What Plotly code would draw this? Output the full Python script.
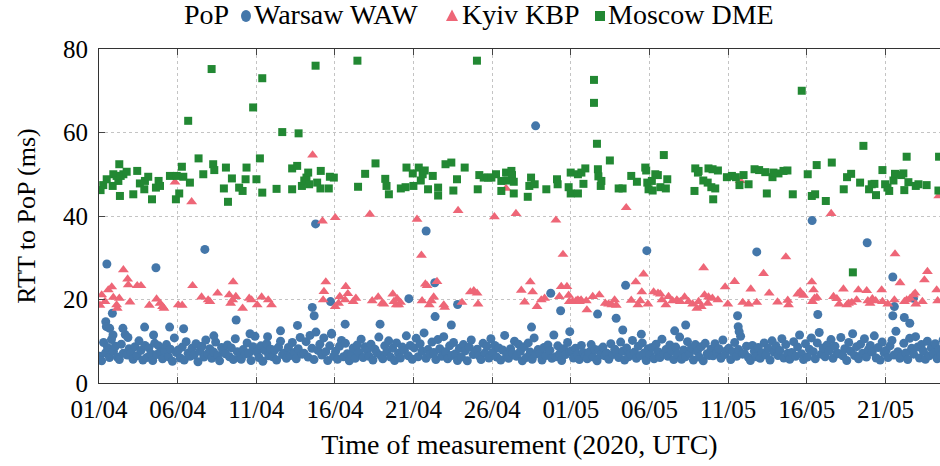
import pandas as pd
import plotly.graph_objects as go

# ---------------------------------------------------------------------------
# RTT measurements from the probe to three PoPs, spring 2020 (UTC)
# Times are given as day offsets from 2020-04-01 00:00.
# ---------------------------------------------------------------------------
START = pd.Timestamp("2020-04-01 00:00")

# Warsaw WAW: regular probing schedule (hours of the day) and the RTT per slot
waw_hours = [1, 4, 7, 10, 13, 16, 19, 22]
waw_daily = [
    [6.4, 5.3, 9.7, 7.2, 8.5, 6.1, 10.4, 7.6],
    [8.8, 6.2, 5.6, 9.3, 7.1, 11.6, 6.7, 8.2],
    [7.3, 5.7, 8.7, 6.5, 10.1, 7.8, 5.5, 9.0],
    [6.1, 8.4, 7.0, 5.4, 9.5, 6.8, 8.9, 7.4],
    [5.8, 7.7, 9.2, 6.3, 8.1, 5.2, 10.8, 7.3],
    [7.9, 6.0, 8.6, 5.5, 9.9, 7.1, 6.4, 8.3],
    [6.7, 9.4, 5.1, 7.6, 8.8, 6.2, 10.3, 7.0],
    [8.2, 5.9, 7.4, 9.8, 6.6, 5.3, 8.5, 7.7],
    [7.0, 9.1, 6.3, 8.4, 5.6, 10.6, 7.5, 6.1],
    [5.7, 8.0, 6.9, 9.6, 7.2, 5.4, 8.7, 11.2],
    [7.4, 6.1, 8.9, 5.2, 7.8, 9.4, 6.5, 8.1],
    [6.3, 7.9, 5.5, 8.6, 10.0, 6.8, 7.2, 5.9],
    [8.5, 6.6, 9.7, 7.3, 5.8, 8.2, 10.9, 6.9],
    [7.1, 9.9, 6.2, 11.4, 8.3, 5.6, 12.2, 7.8],
    [9.3, 6.7, 10.8, 7.5, 5.4, 8.9, 11.7, 6.4],
    [7.6, 5.7, 8.8, 10.2, 6.3, 9.5, 7.0, 5.3],
    [6.8, 8.4, 5.9, 9.1, 7.3, 10.5, 6.1, 8.7],
    [7.9, 6.4, 9.3, 5.5, 8.1, 7.2, 11.0, 6.6],
    [5.8, 8.9, 7.4, 10.1, 6.2, 8.3, 5.4, 9.6],
    [7.1, 6.0, 8.6, 7.8, 11.3, 6.5, 9.0, 5.7],
    [8.4, 10.7, 6.3, 9.4, 7.6, 12.0, 5.9, 8.0],
    [6.9, 9.8, 7.3, 5.6, 10.4, 8.2, 6.4, 11.1],
    [7.5, 5.8, 8.9, 6.6, 9.7, 7.0, 5.4, 8.3],
    [6.2, 9.2, 7.7, 5.3, 8.6, 10.3, 6.8, 7.4],
    [8.1, 6.5, 5.6, 9.5, 7.2, 8.8, 6.0, 10.6],
    [7.3, 9.0, 6.2, 8.4, 5.5, 7.9, 11.4, 6.7],
    [5.9, 8.2, 7.1, 10.0, 6.4, 9.3, 7.6, 5.3],
    [8.7, 6.1, 9.6, 7.4, 5.7, 10.8, 6.9, 8.0],
    [7.2, 5.5, 8.5, 6.6, 9.1, 7.8, 5.9, 11.5],
    [6.3, 8.9, 7.0, 5.4, 8.2, 6.8, 9.7, 7.5],
    [7.7, 6.0, 8.3, 6.9, 5.6, 9.0, 7.3, 6.4],
    [5.8, 7.4, 9.2, 6.2, 8.0, 5.3, 7.9, 6.7],
    [8.6, 6.5, 7.1, 5.7, 9.4, 6.8, 8.1, 7.3],
    [6.1, 9.8, 7.6, 5.5, 8.4, 6.3, 7.0, 10.2],
    [7.4, 5.9, 8.8, 6.6, 9.6, 7.2, 5.4, 8.2],
    [6.8, 8.5, 5.8, 9.3, 7.5, 6.1, 10.5, 7.0],
    [8.0, 6.4, 9.1, 7.7, 5.6, 8.6, 6.9, 11.0],
    [5.7, 7.9, 6.3, 9.9, 7.1, 8.4, 5.5, 9.2],
    [7.6, 6.2, 8.7, 5.3, 9.5, 7.0, 6.6, 8.1],
    [6.5, 9.4, 7.3, 8.2, 5.9, 10.3, 6.8, 7.8],
    [8.3, 5.6, 7.5, 9.7, 6.4, 8.0, 11.2, 6.9],
    [7.0, 8.8, 6.1, 5.4, 9.0, 7.6, 6.3, 8.5],
    [5.9, 7.2, 9.6, 6.7, 8.3, 5.5, 10.1, 7.4],
    [8.9, 6.6, 7.8, 10.6, 6.0, 9.2, 7.1, 5.7],
    [7.3, 9.9, 6.4, 8.6, 11.5, 7.0, 5.6, 9.4],
    [6.2, 8.1, 10.8, 7.5, 5.8, 9.6, 12.1, 6.9],
    [8.4, 6.3, 9.1, 7.7, 10.4, 5.9, 8.8, 7.2],
    [7.0, 10.9, 6.5, 8.2, 5.4, 9.7, 7.6, 11.8],
    [6.6, 8.7, 5.8, 9.3, 7.1, 10.6, 6.2, 8.0],
    [9.0, 7.4, 11.3, 6.0, 8.5, 5.5, 9.8, 7.3],
    [7.8, 6.1, 8.9, 10.2, 6.7, 12.4, 7.5, 5.9],
    [6.4, 9.5, 7.2, 5.6, 10.7, 8.3, 6.9, 11.1],
    [8.6, 6.0, 9.2, 7.6, 5.7, 10.0, 6.5, 8.4],
    [7.1, 9.4, 5.8, 8.0, 6.6, 10.3, 7.7, 6.2],
]

# Warsaw WAW: additional (off-schedule / elevated) samples
waw_extra_day = [
    0.50, 0.43, 0.47, 0.68, 0.85, 0.89, 1.52, 1.84, 2.90, 3.47,
    3.62, 4.49, 5.38, 6.73, 7.30, 8.72, 9.60, 10.72, 11.54, 12.62,
    13.56, 13.68, 13.77, 14.72, 14.78, 15.65, 17.87, 19.70, 20.80, 21.35,
    21.37, 22.80, 22.40, 27.50, 27.76, 28.72, 29.35, 29.93, 31.70, 32.88,
    33.48, 33.30, 34.83, 34.48, 36.60, 37.30, 40.60, 40.64, 40.70, 41.82,
    45.34, 45.70, 48.84, 50.47, 50.57, 50.47, 51.20, 51.55, 51.78,
]
waw_extra_rtt = [
    28.5, 14.7, 13.5, 13.1, 16.7, 11.5, 13.1, 10.9, 13.4, 11.5,
    27.6, 13.4, 13.0, 32.0, 11.3, 15.1, 11.8, 11.1, 12.5, 13.8,
    18.1, 16.1, 38.1, 19.5, 11.9, 14.1, 14.1, 20.2, 36.4, 24.0,
    15.9, 18.8, 13.9, 13.4, 61.6, 21.5, 17.3, 12.3, 16.5, 15.5,
    23.4, 12.7, 31.7, 11.7, 12.5, 13.9, 16.1, 13.5, 12.3, 31.4,
    38.9, 16.4, 33.6, 25.4, 18.3, 16.1, 15.7, 14.3, 20.3,
]

# Kyiv KBP
kbp_day = [
    0.06, 0.17, 0.38, 0.59, 0.81, 0.91, 1.12, 1.16, 1.29, 1.55,
    1.82, 1.86, 1.97, 2.43, 2.67, 3.20, 3.66, 3.88, 4.04, 4.13,
    4.83, 5.04, 5.29, 5.89, 5.95, 6.52, 6.94, 7.05, 7.54, 8.28,
    8.37, 8.50, 8.53, 8.70, 9.13, 9.55, 9.70, 10.06, 10.34, 10.76,
    10.97, 13.58, 14.21, 14.25, 14.30, 14.42, 15.02, 15.02, 15.23, 15.31,
    15.65, 15.69, 15.82, 16.16, 16.33, 17.22, 17.37, 17.75, 18.00, 18.11,
    18.68, 18.75, 18.90, 18.96, 19.06, 19.17, 20.22, 20.50, 20.54, 20.75,
    20.86, 21.00, 21.13, 21.28, 21.49, 21.92, 21.98, 22.83, 23.08, 23.61,
    23.83, 24.04, 24.10, 25.14, 25.88, 26.51, 26.85, 27.06, 27.42, 27.57,
    27.85, 28.12, 28.33, 29.05, 29.27, 29.39, 29.50, 29.75, 29.86, 29.90,
    30.11, 30.33, 30.45, 30.55, 30.65, 31.02, 30.98, 31.39, 31.81, 32.19,
    32.40, 32.61, 32.78, 32.89, 33.52, 33.84, 34.13, 34.26, 34.41, 34.51,
    34.62, 34.90, 35.26, 35.54, 35.69, 35.79, 36.04, 36.21, 36.47, 36.74,
    36.96, 37.23, 37.48, 37.74, 38.01, 38.12, 38.29, 38.44, 38.50, 38.75,
    38.70, 39.00, 39.35, 39.81, 39.98, 40.41, 40.76, 40.93, 41.30, 41.44,
    41.82, 42.25, 42.61, 43.14, 43.67, 43.79, 43.84, 44.43, 44.58, 44.79,
    45.32, 45.43, 45.36, 45.49, 45.64, 46.55, 46.70, 46.91, 47.06, 47.33,
    47.54, 47.65, 47.86, 48.17, 48.28, 48.81, 48.88, 49.02, 49.17, 49.38,
    49.76, 49.81, 50.15, 50.61, 50.57, 50.93, 51.21, 51.35, 51.57, 51.78,
    51.93, 51.89, 52.35, 52.48, 52.67, 53.26, 53.32, 53.39,
]
kbp_rtt = [
    18.6, 21.1, 19.5, 22.3, 23.0, 20.5, 18.7, 17.9, 20.3, 27.1,
    24.9, 23.5, 19.4, 23.3, 23.3, 18.6, 20.1, 19.1, 18.3, 17.9,
    48.1, 18.7, 18.6, 43.4, 23.3, 20.6, 19.9, 19.5, 21.5, 21.1,
    19.1, 19.9, 24.2, 20.7, 17.9, 20.3, 19.9, 18.7, 20.6, 19.9,
    18.7, 54.6, 38.8, 19.9, 21.9, 24.2, 39.6, 18.3, 19.1, 20.7,
    19.9, 23.1, 21.4, 19.5, 20.3, 40.4, 19.7, 20.6, 19.1, 18.9,
    21.3, 19.5, 18.7, 20.2, 18.7, 19.3, 39.2, 30.6, 19.7, 23.7,
    23.3, 18.7, 19.7, 20.6, 24.3, 18.7, 18.1, 41.3, 19.3, 21.8,
    22.1, 21.5, 18.9, 39.8, 46.6, 40.6, 22.2, 19.4, 24.2, 21.8,
    18.3, 19.9, 20.3, 39.0, 20.7, 23.1, 30.8, 23.1, 21.0, 19.5,
    19.5, 19.7, 19.9, 19.5, 19.9, 17.5, 19.7, 20.7, 21.1, 19.1,
    18.9, 18.7, 19.9, 18.6, 42.0, 19.8, 24.2, 18.7, 19.7, 21.8,
    26.1, 18.9, 21.8, 21.5, 21.3, 19.9, 18.7, 20.7, 19.7, 19.9,
    19.5, 20.6, 19.5, 18.9, 17.9, 19.5, 18.3, 27.6, 21.1, 20.6,
    19.1, 20.3, 19.9, 23.0, 18.9, 24.3, 48.5, 19.3, 18.9, 22.5,
    19.3, 26.2, 21.5, 19.4, 30.2, 19.8, 18.7, 21.3, 21.9, 21.0,
    24.2, 22.3, 19.5, 20.3, 20.5, 40.6, 20.7, 20.2, 18.9, 22.5,
    18.7, 19.1, 19.3, 19.9, 22.3, 22.1, 19.7, 19.1, 20.2, 19.7,
    22.3, 19.5, 18.9, 30.9, 19.9, 24.0, 19.5, 19.9, 20.3, 21.1,
    18.9, 21.5, 19.5, 24.7, 26.7, 22.3, 19.7, 44.8,
]

# Moscow DME
dme_day = [
    0.10, 0.27, 0.49, 0.87, 0.91, 1.12, 1.23, 1.29, 1.33, 1.38,
    1.55, 1.76, 2.18, 2.43, 2.60, 2.88, 2.92, 3.13, 3.37, 3.62,
    3.79, 3.88, 4.51, 4.89, 4.94, 5.10, 5.27, 5.36, 5.67, 5.78,
    6.33, 6.63, 7.16, 7.26, 7.33, 7.94, 8.07, 8.20, 8.45, 8.91,
    9.13, 9.32, 9.38, 9.80, 10.01, 10.23, 10.38, 10.38, 11.29, 11.65,
    12.28, 12.28, 12.60, 12.69, 12.90, 13.05, 13.19, 13.30, 13.36, 13.77,
    13.87, 14.08, 14.10, 14.61, 14.68, 14.93, 16.43, 16.47, 16.92, 17.58,
    18.20, 18.28, 18.43, 19.19, 19.49, 19.55, 19.95, 19.99, 20.33, 20.46,
    20.58, 20.71, 20.92, 21.22, 21.56, 21.56, 22.03, 22.40, 22.53, 22.76,
    23.25, 24.03, 24.08, 24.18, 24.46, 24.73, 24.95, 25.24, 25.58, 25.58,
    25.88, 25.96, 26.22, 26.26, 26.37, 26.37, 27.26, 27.36, 27.47, 27.70,
    28.44, 29.12, 29.16, 29.86, 29.99, 29.99, 30.45, 30.45, 30.67, 30.80,
    30.92, 31.47, 31.47, 31.66, 31.72, 31.75, 31.94, 31.90, 32.48, 33.04,
    33.29, 33.84, 34.20, 34.73, 34.79, 34.86, 34.94, 35.15, 35.20, 35.37,
    35.53, 35.69, 35.91, 36.04, 36.13, 37.86, 37.91, 38.08, 38.12, 38.42,
    38.70, 38.75, 38.93, 39.01, 39.05, 39.18, 39.35, 39.92, 40.24, 40.49,
    40.72, 40.98, 41.30, 41.68, 41.97, 42.36, 42.46, 42.82, 42.88, 43.20,
    43.52, 43.77, 44.11, 44.68, 45.06, 45.32, 45.53, 45.63, 46.21, 46.59,
    47.35, 47.56, 47.82, 47.93, 48.39, 48.60, 48.96, 49.13, 49.30, 49.40,
    49.81, 49.98, 50.13, 50.24, 50.51, 50.61, 51.00, 51.14, 51.20, 51.35,
    51.46, 51.93, 52.10, 52.62, 53.37, 53.41,
]
dme_rtt = [
    46.2, 47.4, 48.8, 47.2, 50.0, 49.6, 48.4, 52.4, 44.8, 49.6,
    50.0, 50.6, 45.2, 50.8, 47.8, 46.4, 48.4, 49.4, 44.0, 46.8,
    48.4, 47.2, 49.6, 44.0, 49.6, 45.4, 51.8, 49.4, 62.8, 48.0,
    53.8, 50.0, 75.2, 52.4, 51.0, 46.6, 51.6, 43.4, 49.0, 46.8,
    46.0, 48.8, 51.6, 66.0, 48.8, 53.8, 73.0, 45.6, 46.5, 60.1,
    46.4, 51.4, 52.0, 59.8, 47.2, 48.5, 49.2, 50.4, 47.6, 76.0,
    48.0, 46.6, 50.8, 46.6, 49.4, 49.2, 77.2, 47.0, 50.1, 52.6,
    48.9, 47.2, 45.2, 46.6, 46.9, 51.6, 50.2, 47.2, 51.6, 48.5,
    50.0, 50.9, 46.4, 49.6, 46.8, 44.9, 52.4, 52.8, 46.1, 48.8,
    51.6, 77.2, 46.4, 49.8, 49.2, 49.2, 49.2, 50.0, 48.4, 46.0,
    50.4, 48.5, 50.8, 49.8, 48.2, 45.4, 44.6, 47.2, 49.2, 47.6,
    46.4, 48.8, 47.6, 46.9, 50.4, 45.4, 50.0, 45.4, 50.4, 47.7,
    51.4, 72.6, 67.1, 57.3, 51.2, 49.5, 48.4, 47.2, 53.3, 46.6,
    46.6, 49.6, 48.2, 51.6, 50.9, 48.0, 46.4, 48.4, 46.1, 50.0,
    49.8, 46.9, 54.6, 46.6, 48.8, 46.0, 51.4, 50.4, 50.8, 48.5,
    48.0, 51.4, 46.9, 51.2, 44.0, 46.6, 50.9, 49.3, 49.6, 49.3,
    47.4, 49.8, 47.6, 51.2, 51.0, 50.5, 45.4, 49.3, 50.4, 50.2,
    50.8, 50.9, 45.2, 70.0, 50.0, 44.8, 45.2, 52.2, 43.6, 52.8,
    46.4, 49.3, 50.1, 26.5, 48.0, 56.8, 46.4, 47.6, 47.7, 45.0,
    51.0, 47.6, 46.8, 46.0, 48.5, 50.1, 49.8, 50.2, 46.2, 54.2,
    48.1, 47.2, 47.6, 47.4, 46.1, 54.2,
]

# Axis definitions
y_ticks = [0, 20, 40, 60, 80]
x_span_days = 53.47

# Colours (Paul Tol "bright")
C_WAW = "#4477AA"
C_KBP = "#EE6677"
C_DME = "#228833"

FONT = "Liberation Serif"
W, H = 940, 466
M_L, M_R, M_T, M_B = 99, 0, 49, 83


def to_time(days):
    return [START + pd.Timedelta(days=d) for d in days]


waw_t, waw_v = [], []
for i, row in enumerate(waw_daily):
    for h, v in zip(waw_hours, row):
        waw_t.append(START + pd.Timedelta(days=i, hours=h))
        waw_v.append(v)
waw_t += to_time(waw_extra_day)
waw_v += waw_extra_rtt

series = [
    ("Warsaw WAW", waw_t, waw_v, "circle", 9, C_WAW),
    ("Kyiv KBP", to_time(kbp_day), kbp_rtt, "triangle-up", 9.5, C_KBP),
    ("Moscow DME", to_time(dme_day), dme_rtt, "square", 8, C_DME),
]

fig = go.Figure()
for name, xs, ys, sym, size, col in series:
    fig.add_trace(go.Scatter(
        x=xs, y=ys, mode="markers", name=name, showlegend=False,
        marker=dict(symbol=sym, size=size, color=col, line=dict(width=0)),
    ))

# --- compact legend row above the plot (pixel positions -> paper coords) ---
plot_w = W - M_L - M_R
plot_h = H - M_T - M_B


def px_x(px):
    return (px - M_L) / plot_w


def px_y(py):
    return (H - M_B - py) / plot_h


LEG_Y = 15
leg_font = dict(family=FONT, size=28, color="black")
annotations = [
    dict(text="PoP", x=px_x(182), y=px_y(LEG_Y), xref="paper", yref="paper",
         xanchor="left", yanchor="middle", showarrow=False, font=leg_font),
]
shapes = []
legend_items = [
    ("Warsaw WAW", "circle", 246, 252, C_WAW),
    ("Kyiv KBP", "triangle", 452, 460, C_KBP),
    ("Moscow DME", "square", 600, 606, C_DME),
]
for label, kind, mx, tx, col in legend_items:
    common = dict(xref="paper", yref="paper", xsizemode="pixel", ysizemode="pixel",
                  xanchor=px_x(mx), yanchor=px_y(LEG_Y + 1),
                  fillcolor=col, line=dict(width=0), layer="above")
    if kind == "circle":
        shapes.append(dict(type="circle", x0=-5, x1=5, y0=-6, y1=6, **common))
    elif kind == "square":
        shapes.append(dict(type="rect", x0=-5, x1=5, y0=-5, y1=5, **common))
    else:
        shapes.append(dict(type="path", path="M -6,-5 L 6,-5 L 0,6.5 Z", **common))
    annotations.append(dict(text=label, x=px_x(tx), y=px_y(LEG_Y), xref="paper",
                            yref="paper", xanchor="left", yanchor="middle",
                            showarrow=False, font=leg_font))

grid = "#c4c4c4"
fig.update_layout(
    width=W, height=H,
    margin=dict(l=M_L, r=M_R, t=M_T, b=M_B),
    paper_bgcolor="white", plot_bgcolor="white",
    font=dict(family=FONT, size=25, color="black"),
    showlegend=False,
    annotations=annotations,
    shapes=shapes,
    xaxis=dict(
        type="date",
        range=[START, START + pd.Timedelta(days=x_span_days)],
        tick0=START, dtick=5 * 86400000,
        tickformat="%d/%m",
        ticks="inside", ticklen=6, tickcolor="#444", tickwidth=1,
        showline=True, linecolor="#333", linewidth=1, mirror="ticks",
        showgrid=True, gridcolor=grid, griddash="dot", gridwidth=1,
        zeroline=False,
        tickfont=dict(family=FONT, size=25),
        ticklabelstandoff=4,
        title=dict(text="Time of measurement (2020, UTC)",
                   font=dict(family=FONT, size=28), standoff=12),
    ),
    yaxis=dict(
        range=[0, 80], tickvals=y_ticks,
        ticks="inside", ticklen=6, tickcolor="#444", tickwidth=1,
        showline=True, linecolor="#333", linewidth=1, mirror=False,
        showgrid=True, gridcolor=grid, griddash="dot", gridwidth=1,
        zeroline=False,
        tickfont=dict(family=FONT, size=25),
        ticklabelstandoff=5,
        title=dict(text="RTT to PoP (ms)",
                   font=dict(family=FONT, size=26), standoff=19),
    ),
)

fig.write_html("out.html")
